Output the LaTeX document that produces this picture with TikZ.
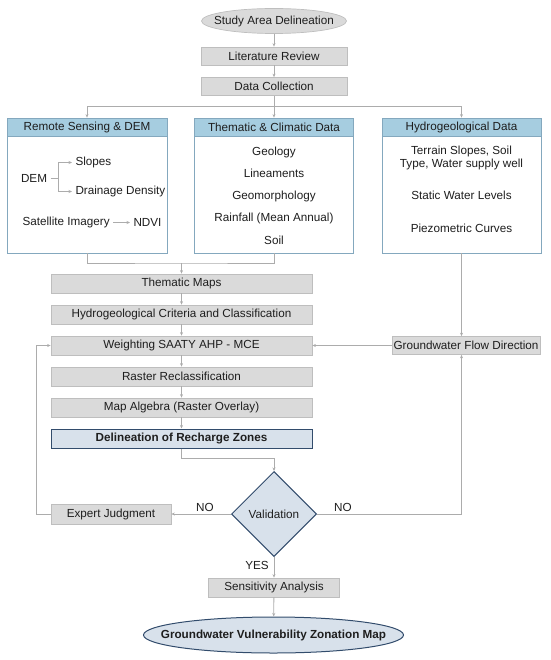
\documentclass[tikz,border=0pt]{standalone}
\usepackage{fontspec}
\setmainfont{Liberation Sans}
\usepackage{tikz}
\usetikzlibrary{shapes.geometric,arrows.meta,positioning,calc}
\definecolor{boxgray}{RGB}{218,218,218}
\definecolor{edgegray}{RGB}{190,190,190}
\definecolor{linegray}{RGB}{172,172,172}
\definecolor{headblue}{RGB}{166,205,224}
\definecolor{colblue}{RGB}{132,168,190}
\definecolor{paleblue}{RGB}{216,225,235}
\definecolor{darkblue}{RGB}{50,76,108}
\definecolor{txtgray}{RGB}{30,30,30}

\begin{document}
\begin{tikzpicture}[x=1pt, y=-1pt,
    font=\fontsize{11.7}{12.5}\selectfont, text=txtgray,
    proc/.style={draw=edgegray, fill=boxgray, line width=0.7pt, minimum height=19, inner sep=1.5pt},
    keybox/.style={draw=darkblue, fill=paleblue, line width=1pt, minimum height=19,
        font=\fontsize{11.7}{12.5}\selectfont\bfseries},
    column/.style={draw=colblue, fill=white, line width=0.8pt, minimum height=135},
    colhead/.style={draw=colblue, fill=headblue, line width=0.8pt, minimum height=18, anchor=north},
    term/.style={ellipse, draw=edgegray, fill=boxgray, line width=0.7pt},
    final/.style={ellipse, draw=darkblue, fill=paleblue, line width=1pt},
    decision/.style={diamond, draw=darkblue, fill=paleblue, line width=1pt,
        minimum width=85, minimum height=85, inner sep=0pt},
    link/.style={draw=linegray, line width=0.8pt},
    arr/.style={link, -{Stealth[length=3.5pt,width=3pt]}}]
    \useasboundingbox (0,0) rectangle (550,660);

    % Start of the flow
    \node[term, minimum width=145, minimum height=25, label=center:Study Area Delineation] (study) at (274,21) {};
    \node[proc, minimum width=146, minimum height=18] (lit) at (274,56) {Literature Review};
    \node[proc, minimum width=146, minimum height=18] (data) at (274,86.5) {Data Collection};

    % Three data groups
    \node[column, minimum width=160] (rs) at (87,185.5) {};
    \node[colhead, minimum width=160] (rshead) at (rs.north) {Remote Sensing \& DEM};
    \node[column, minimum width=159] (th) at (274,185.5) {};
    \node[colhead, minimum width=159] (thhead) at (th.north) {Thematic \& Climatic Data};
    \node[column, minimum width=159] (hy) at (461.5,185.5) {};
    \node[colhead, minimum width=159] (hyhead) at (hy.north) {Hydrogeological Data};

    % Remote sensing items
    \node (dem) at (34,178) {DEM};
    \node[anchor=west] (slope) at (72,162.5) {Slopes};
    \node[anchor=west] (drain) at (72,191.5) {Drainage Density};
    \node[anchor=west] (sat) at (19,222.5) {Satellite Imagery};
    \node[anchor=west] (ndvi) at (130,222.5) {NDVI};
    \coordinate (fork) at (58,178);
    \draw[link] (dem) -- (fork);
    \draw[arr] (fork) |- (slope.west);
    \draw[arr] (fork) |- (drain.west);
    \draw[arr] (sat) -- (ndvi);

    % Thematic items
    \node (geo) at (274,152) {Geology};
    \node (lin) at (274,173.5) {Lineaments};
    \node (morph) at (274,196) {Geomorphology};
    \node (rain) at (274,218) {Rainfall (Mean Annual)};
    \node (soil) at (274,240) {Soil};

    % Hydrogeological items
    \node[align=center] (terrain) at (461.5,158) {Terrain Slopes, Soil\\Type, Water supply well};
    \node (swl) at (461.5,195) {Static Water Levels};
    \node (piezo) at (461.5,228) {Piezometric Curves};

    % Top connectors
    \coordinate (split) at (274,106);
    \draw[arr] (study) -- (lit);
    \draw[arr] (lit) -- (data);
    \draw[arr] (data) -- (th.north);
    \draw[arr] (split) -| (rs.north);
    \draw[arr] (split) -| (hy.north);

    % Processing chain
    \node[proc, minimum width=261] (maps) at (181.5,283.5) {Thematic Maps};
    \node[proc, minimum width=261] (crit) at (181.5,314.5) {Hydrogeological Criteria and Classification};
    \node[proc, minimum width=261] (weight) at (181.5,345.5) {Weighting SAATY AHP - MCE};
    \node[proc, minimum width=261] (recl) at (181.5,376.5) {Raster Reclassification};
    \node[proc, minimum width=261] (alg) at (181.5,407.5) {Map Algebra (Raster Overlay)};
    \node[keybox, minimum width=261] (zones) at (181.5,438.5) {Delineation of Recharge Zones};

    \coordinate (merge) at (181.5,263);
    \draw[link] (rs.south) |- (merge) -| (th.south);
    \draw[arr] (merge) -- (maps);
    \foreach \a/\b in {maps/crit, crit/weight, weight/recl, recl/alg, alg/zones}
        \draw[arr] (\a) -- (\b);

    % Flow direction branch
    \node[proc, minimum height=18] (flow) at (466,345.5) {Groundwater Flow Direction};
    \draw[arr] (hy.south) -- (hy.south |- flow.north);
    \draw[arr] (flow) -- (weight);

    % Validation loop
    \node[decision] (valid) at (274,514) {Validation};
    \node[proc, minimum width=120, minimum height=20] (expert) at (111,514) {Expert Judgment};
    \draw[arr] (zones.south) -- ++(0,10) -| (valid.north);
    \draw[arr] (valid.west) -- (expert.east);
    \node (noleft) at (205,507) {NO};
    \draw[arr] (valid.east) -| (hy.south |- flow.south);
    \node (noright) at (343,507) {NO};
    \draw[arr] (expert.west) -- ++(-14,0) |- (weight.west);

    % Final steps
    \node[proc, minimum width=131] (sens) at (274,587.5) {Sensitivity Analysis};
    \node (yes) at (257,565) {YES};
    \draw[arr] (valid.south) -- (sens.north);
    \node[final, minimum width=260, minimum height=36,
        label={[font=\fontsize{11.7}{12.5}\selectfont\bfseries]center:Groundwater Vulnerability Zonation Map}] (map) at (273.5,635) {};
    \draw[arr] (sens) -- (map);
\end{tikzpicture}
\end{document}
